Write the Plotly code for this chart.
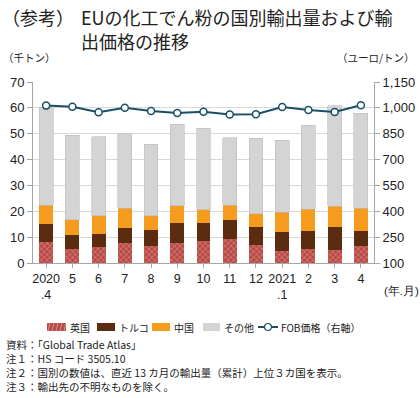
import plotly.graph_objects as go

months = ["2020<br>.4", "5", "6", "7", "8", "9", "10", "11", "12", "2021<br>.1", "2", "3", "4"]
uk = [8.2, 5.5, 6.0, 7.6, 6.4, 7.8, 8.6, 9.4, 6.9, 4.6, 5.4, 5.1, 6.4]
turkey_cum = [15.2, 11.0, 11.4, 13.4, 12.9, 15.4, 15.3, 16.5, 13.9, 12.0, 12.5, 14.1, 12.2]
china_cum = [22.4, 16.7, 18.3, 21.1, 18.3, 22.1, 20.6, 22.4, 19.0, 19.7, 20.8, 21.9, 21.1]
total = [60.0, 49.4, 48.8, 49.9, 45.9, 53.7, 52.1, 48.4, 48.3, 47.5, 53.3, 60.9, 58.0]
fob = [1013, 1007, 974, 1001, 982, 970, 978, 961, 963, 1005, 988, 976, 1015]
series_names = ["英国", "トルコ", "中国", "その他", "FOB価格（右軸）"]

turkey = [round(t - u, 2) for t, u in zip(turkey_cum, uk)]
china = [round(c - t, 2) for c, t in zip(china_cum, turkey_cum)]
other = [round(s - c, 2) for s, c in zip(total, china_cum)]

x = list(range(len(months)))
FONT = "Noto Sans CJK JP, Noto Sans, sans-serif"
NUMFONT = "Liberation Sans, Arial, sans-serif"
C_UK, C_TR, C_CN, C_OT, C_LINE = "#b94a46", "#5b2c0f", "#f59c1e", "#d4d4d4", "#1a4f66"

W, H = 420, 398
L, R, T, B = 33, 46, 82, 135
PW, PH = W - L - R, H - T - B

fig = go.Figure()
fig.add_bar(x=x, y=uk, name=series_names[0],
            marker=dict(color=C_UK, line=dict(width=0),
                        pattern=dict(shape="x", fgcolor="#f2d0cc", bgcolor=C_UK, size=4, solidity=0.3)))
fig.add_bar(x=x, y=turkey, name=series_names[1], marker=dict(color=C_TR, line=dict(width=0)))
fig.add_bar(x=x, y=china, name=series_names[2], marker=dict(color=C_CN, line=dict(width=0)))
fig.add_bar(x=x, y=other, name=series_names[3], marker=dict(color=C_OT, line=dict(width=0.6, color="#bdbdbd")))
fig.add_scatter(x=x, y=fob, name=series_names[4], yaxis="y2", mode="lines+markers",
                line=dict(color=C_LINE, width=2),
                marker=dict(size=7, color="white", line=dict(color=C_LINE, width=1.5)))

fig.update_layout(
    width=W, height=H,
    margin=dict(l=L, r=R, t=T, b=B, autoexpand=False),
    barmode="stack", bargap=0.47,
    plot_bgcolor="white", paper_bgcolor="white",
    font=dict(family=FONT, size=13, color="#222"),
    showlegend=False,
    xaxis=dict(tickmode="array", tickvals=x, ticktext=months, range=[-0.5, 12.5],
               showline=True, linecolor="#a6a6a6", linewidth=1,
               ticks="outside", ticklen=4, tickcolor="#a6a6a6", tickson="boundaries",
               showgrid=False, tickfont=dict(size=12.5, family=NUMFONT, color="#222")),
    yaxis=dict(range=[0, 70], dtick=10, showline=True, linecolor="#a6a6a6",
               gridcolor="#d9d9d9", gridwidth=1, ticks="outside", ticklen=5, tickcolor="#a6a6a6",
               tickfont=dict(size=13, family=NUMFONT, color="#222"), zeroline=False),
    yaxis2=dict(range=[100, 1150], tick0=100, dtick=150, overlaying="y", side="right",
                showline=True, linecolor="#a6a6a6", showgrid=False,
                ticks="outside", ticklen=5, tickcolor="#a6a6a6",
                tickformat=",", tickfont=dict(size=13, family=NUMFONT, color="#222"), zeroline=False),
)


def px(xp):
    return (xp - L) / PW


def py(yp):
    return 1 - (yp - T) / PH


annotations = []


def text(t, xp, yp, size, anchor="left", family=FONT):
    annotations.append(dict(text=t, xref="paper", yref="paper", x=px(xp), y=py(yp),
                            xanchor=anchor, yanchor="middle", showarrow=False,
                            font=dict(size=size, family=family, color="#222")))


text("（参考）", 0, 17, 18)
text("EUの化工でん粉の国別輸出量および輸", 79, 17, 18)
text("出価格の推移", 79, 41, 18)
text("（千トン）", 1, 57, 10.5)
text("（ユーロ/トン）", 417, 57, 10.5, anchor="right")
text("(年.月)", 382, 291, 11.5, family=NUMFONT)
text("資料：「Global Trade Atlas」", 4, 344, 10.5)
text("注１：HS コード 3505.10", 4, 358, 10.5)
text("注２：国別の数値は、直近 13 カ月の輸出量（累計）上位３カ国を表示。", 4, 372, 10.5)
text("注３：輸出先の不明なものを除く。", 4, 386, 10.5)

# manual legend
LY = 327
shapes = []
legend_rects = [(47, 66, C_UK, 0), (97, 115, C_TR, 1), (152, 170, C_CN, 2), (203, 220, C_OT, 3)]
for x0, x1, col, i in legend_rects:
    shapes.append(dict(type="rect", xref="paper", yref="paper",
                       x0=px(x0), x1=px(x1), y0=py(LY + 4), y1=py(LY - 4),
                       fillcolor=col, line=dict(width=0)))
    text(series_names[i], x1 + 2, LY, 10)
# UK pattern hint in legend
for k in range(5):
    xa = 48 + k * 4
    shapes.append(dict(type="line", xref="paper", yref="paper",
                       x0=px(xa), x1=px(xa + 2), y0=py(LY + 4), y1=py(LY - 4),
                       line=dict(color="#efc4bf", width=0.6)))
shapes.append(dict(type="line", xref="paper", yref="paper", x0=px(258), x1=px(278),
                   y0=py(LY), y1=py(LY), line=dict(color=C_LINE, width=2)))
shapes.append(dict(type="circle", xref="paper", yref="paper", x0=px(264.5), x1=px(271.5),
                   y0=py(LY + 3.5), y1=py(LY - 3.5), fillcolor="white",
                   line=dict(color=C_LINE, width=1.2)))
text(series_names[4], 279, LY, 10)

fig.update_layout(annotations=annotations, shapes=shapes)

fig.write_html("out.html", config={"displayModeBar": False},
               post_script="document.body.style.margin='0';document.body.style.padding='0';")
